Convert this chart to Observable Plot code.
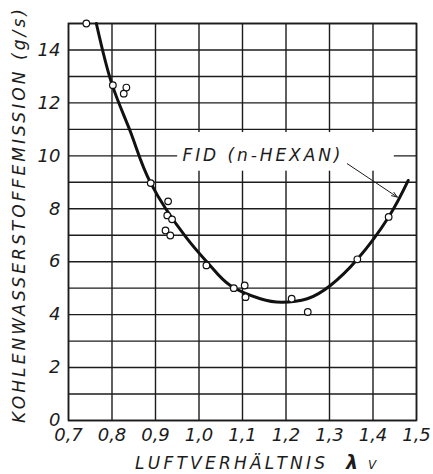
<!DOCTYPE html>
<html>
<head>
<meta charset="utf-8">
<script src="https://cdn.jsdelivr.net/npm/d3@7"></script>
<script src="https://cdn.jsdelivr.net/npm/@observablehq/plot@0.6"></script>
<style>
  html, body { margin: 0; padding: 0; background: #ffffff; }
  #chart svg { display: block; }
</style>
</head>
<body>
<div id="chart"></div>
<script>
// ---- data ----
const xTicks = [0.7, 0.8, 0.9, 1.0, 1.1, 1.2, 1.3, 1.4, 1.5];
const yGrid = [0, 1, 2, 3, 4, 5, 6, 7, 8, 9, 10, 11, 12, 13, 14, 15];
const yTicks = [0, 2, 4, 6, 8, 10, 12, 14];

// measured points (open circles)
const pointX = [0.741, 0.802, 0.833, 0.827, 0.889, 0.929, 0.927, 0.938, 0.923, 0.934, 1.017, 1.080, 1.105, 1.107, 1.213, 1.250, 1.364, 1.436];
const pointY = [15.0, 12.67, 12.58, 12.35, 8.97, 8.28, 7.75, 7.60, 7.18, 6.99, 5.86, 5.00, 5.10, 4.66, 4.60, 4.10, 6.09, 7.69];

// fitted curve FID (n-HEXAN)
const curveX = [0.764, 0.800, 0.845, 0.889, 0.970, 1.026, 1.072, 1.141, 1.190, 1.249, 1.302, 1.364, 1.436, 1.481];
const curveY = [15.0, 12.7, 10.8, 8.97, 6.93, 5.85, 5.10, 4.60, 4.47, 4.60, 5.10, 6.09, 7.69, 9.07];

// annotation
const labelText = "FID (n-HEXAN)";
const labelAt = [{x: 0.962, y: 10.0}];
const labelBox = [{x1: 0.951, x2: 1.449, y1: 9.42, y2: 10.88}];
const arrowAt = [{x1: 1.341, y1: 9.70, x2: 1.456, y2: 8.44}];

const yTitle = "KOHLENWASSERSTOFFEMISSION (g/s)";
const xTitle = "LUFTVERHÄLTNIS";
const xTitleSymbol = "λ";
const xTitleSub = "V";

// ---- build tables ----
const points = pointX.map((x, i) => ({x, y: pointY[i]}));
const curve = curveX.map((x, i) => ({x, y: curveY[i]}));
const fmt = d => d.toFixed(1).replace(".", ",");

const ink = "#1c1c1c";
const font = "DejaVu Sans";

const svg = Plot.plot({
  width: 433,
  height: 474,
  marginLeft: 68,
  marginRight: 17,
  marginTop: 23,
  marginBottom: 54,
  style: {fontFamily: font, fontStyle: "italic", background: "#ffffff", color: ink},
  x: {domain: [0.7, 1.5]},
  y: {domain: [0, 15]},
  marks: [
    Plot.ruleX(xTicks, {stroke: ink, strokeWidth: 1.4}),
    Plot.ruleY(yGrid, {stroke: ink, strokeWidth: 1.4}),
    Plot.frame({stroke: ink, strokeWidth: 1.6}),
    Plot.rect(labelBox, {x1: "x1", x2: "x2", y1: "y1", y2: "y2", fill: "#ffffff"}),
    Plot.axisX({ticks: xTicks, tickSize: 0, tickPadding: 8, tickFormat: fmt, fontSize: 18, label: null}),
    Plot.axisY({ticks: yTicks, tickSize: 0, tickPadding: 8, fontSize: 18, label: null}),
    Plot.text(labelAt, {x: "x", y: "y", text: () => labelText, textAnchor: "start", fontSize: 17, fill: ink}),
    Plot.arrow(arrowAt, {x1: "x1", y1: "y1", x2: "x2", y2: "y2", stroke: ink, strokeWidth: 1, headLength: 9, headAngle: 40}),
    Plot.line(curve, {x: "x", y: "y", curve: "natural", stroke: "#111", strokeWidth: 3}),
    Plot.dot(points, {x: "x", y: "y", r: 3.3, fill: "#ffffff", stroke: "#111", strokeWidth: 1.2, clip: false})
  ]
});

document.getElementById("chart").appendChild(svg);

// stretch the annotation text like the lettering of the original
d3.select(svg).selectAll("text")
  .filter(function () { return this.textContent === labelText; })
  .attr("textLength", 158).attr("lengthAdjust", "spacing");

const s = d3.select(svg);
// y axis title (rotated)
s.append("text")
  .attr("transform", "translate(25,216) rotate(-90)")
  .attr("text-anchor", "middle")
  .attr("font-family", font).attr("font-style", "italic")
  .attr("font-size", 17).attr("fill", ink)
  .attr("textLength", 414).attr("lengthAdjust", "spacing")
  .text(yTitle);
// x axis title
s.append("text")
  .attr("x", 135).attr("y", 469)
  .attr("text-anchor", "start")
  .attr("font-family", font).attr("font-style", "italic")
  .attr("font-size", 17).attr("fill", ink)
  .attr("textLength", 190).attr("lengthAdjust", "spacing")
  .text(xTitle);
s.append("text")
  .attr("x", 346).attr("y", 469)
  .attr("text-anchor", "start")
  .attr("font-family", font).attr("font-style", "italic").attr("font-weight", "bold")
  .attr("font-size", 19).attr("fill", ink)
  .text(xTitleSymbol);
s.append("text")
  .attr("x", 368).attr("y", 469)
  .attr("text-anchor", "start")
  .attr("font-family", font).attr("font-style", "italic")
  .attr("font-size", 12).attr("fill", ink)
  .text(xTitleSub);
</script>
</body>
</html>
